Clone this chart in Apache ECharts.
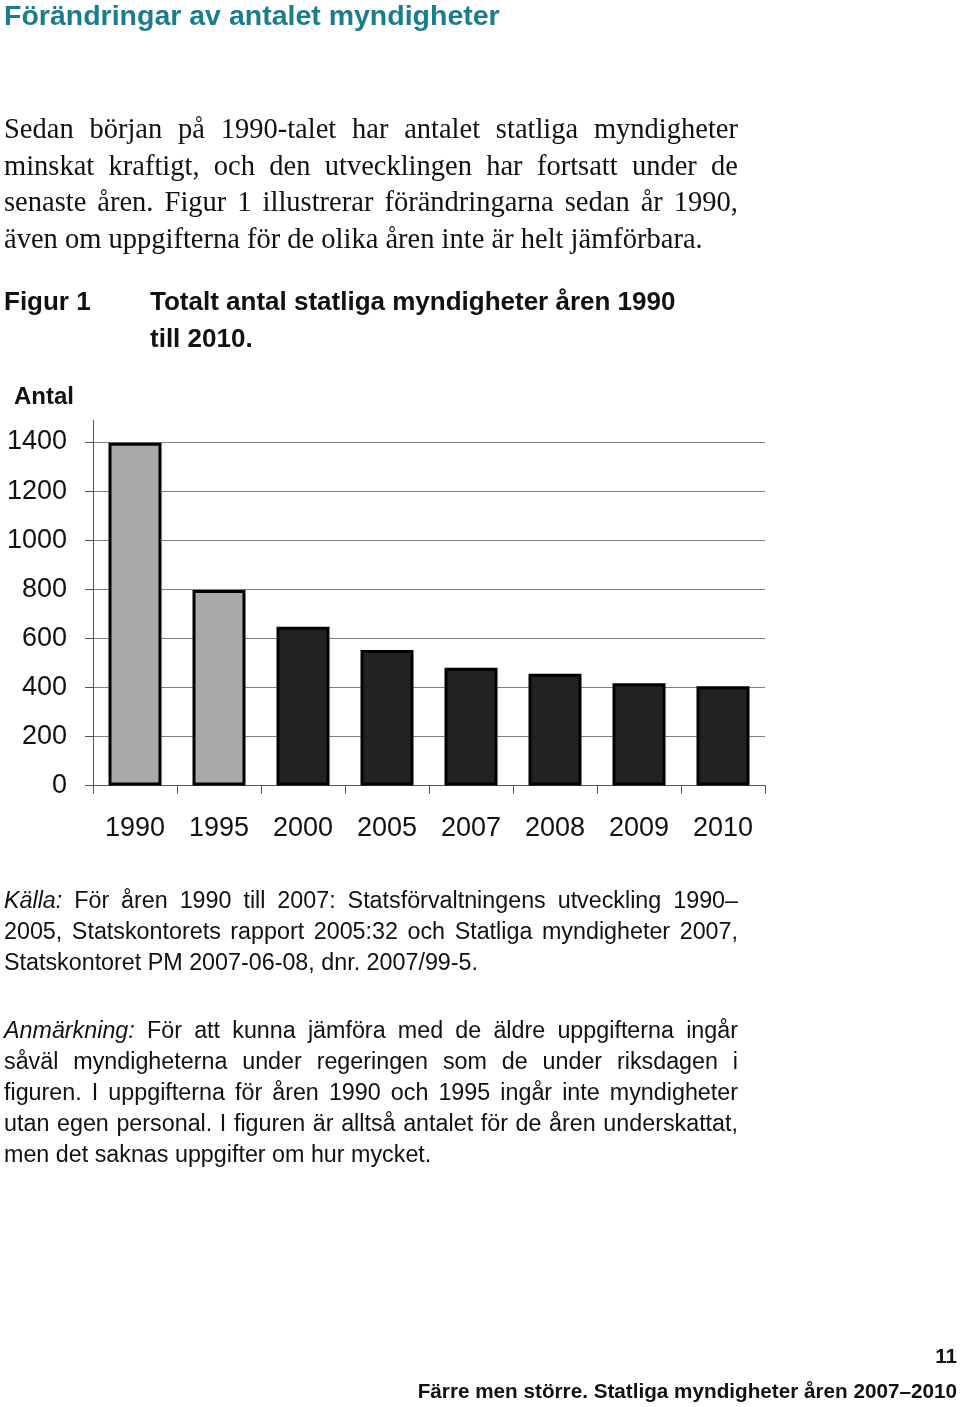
<!DOCTYPE html>
<html lang="sv">
<head>
<meta charset="utf-8">
<script src="https://cdn.jsdelivr.net/npm/echarts@6/dist/echarts.min.js"></script>
<style>
  html, body { margin: 0; padding: 0; background: #fff; }
  #page { position: relative; width: 960px; height: 1407px; overflow: hidden; }
  #chart { position: absolute; left: 0; top: 0; width: 960px; height: 1407px; z-index: 0; }
  .t { position: absolute; z-index: 1; color: #111; white-space: nowrap; }
  .sans { font-family: "Liberation Sans", Arial, Helvetica, sans-serif; }
  .serif { font-family: "Liberation Serif", "Times New Roman", serif; }
  .j { display: block; text-align: justify; text-align-last: justify; white-space: normal; }
  .nl { display: block; text-align: left; }
</style>
</head>
<body>
<div id="page">
  <div id="chart"></div>

  <div class="t sans" style="left:4px; top:-2px; font-size:28.5px; line-height:34px; font-weight:bold; color:#1b7c8c;">Förändringar av antalet myndigheter</div>

  <div class="t serif" style="left:4px; top:111px; width:734px; font-size:28.5px; line-height:36.5px;">
    <span class="j">Sedan början på 1990-talet har antalet statliga myndigheter</span>
    <span class="j">minskat kraftigt, och den utvecklingen har fortsatt under de</span>
    <span class="j">senaste åren. Figur 1 illustrerar förändringarna sedan år 1990,</span>
    <span class="nl">även om uppgifterna för de olika åren inte är helt jämförbara.</span>
  </div>

  <div class="t sans" style="left:4px; top:282.5px; font-size:26px; line-height:37px; font-weight:bold;">Figur 1</div>
  <div class="t sans" style="left:150px; top:282.5px; font-size:26px; line-height:37px; font-weight:bold;">Totalt antal statliga myndigheter åren 1990<br>till 2010.</div>

  <div class="t sans" style="left:4px; top:884.5px; width:734px; font-size:23.3px; line-height:31px;">
    <span class="j"><i>Källa:</i> För åren 1990 till 2007: Statsförvaltningens utveckling 1990–</span>
    <span class="j">2005, Statskontorets rapport 2005:32 och Statliga myndigheter 2007,</span>
    <span class="nl">Statskontoret PM 2007-06-08, dnr. 2007/99-5.</span>
  </div>

  <div class="t sans" style="left:4px; top:1014.5px; width:734px; font-size:23.3px; line-height:31px;">
    <span class="j"><i>Anmärkning:</i> För att kunna jämföra med de äldre uppgifterna ingår</span>
    <span class="j">såväl myndigheterna under regeringen som de under riksdagen i</span>
    <span class="j">figuren. I uppgifterna för åren 1990 och 1995 ingår inte myndigheter</span>
    <span class="j">utan egen personal. I figuren är alltså antalet för de åren underskattat,</span>
    <span class="nl">men det saknas uppgifter om hur mycket.</span>
  </div>

  <div class="t sans" style="right:3px; top:1341px; font-size:20.7px; line-height:30px; font-weight:bold;">11</div>
  <div class="t sans" style="right:3px; top:1376px; font-size:20.7px; line-height:30px; font-weight:bold;">Färre men större. Statliga myndigheter åren 2007–2010</div>
</div>

<script>
// ---- data ----
const years = ['1990', '1995', '2000', '2005', '2007', '2008', '2009', '2010'];
const agencyCounts = [1397, 797, 647, 552, 480, 455, 417, 405];
// 1990 and 1995 exclude agencies without own staff (underestimated)
const underestimated = [true, true, false, false, false, false, false, false];
const yTicks = { min: 0, max: 1400, interval: 200 };
const yAxisTitle = 'Antal';

const FONT = '"Liberation Sans", Arial, Helvetica, sans-serif';
const chart = echarts.init(document.getElementById('chart'), null, { renderer: 'canvas' });

chart.setOption({
  animation: false,
  backgroundColor: 'transparent',
  grid: { left: 93, top: 442, width: 672, height: 343.5, containLabel: false },
  graphic: [
    { type: 'text', left: 14, top: 385, style: { text: yAxisTitle, font: 'bold 24px ' + FONT, fill: '#111' } },
    { type: 'line', shape: { x1: 93.5, y1: 420, x2: 93.5, y2: 442 }, style: { stroke: '#555', lineWidth: 1 } }
  ],
  xAxis: {
    type: 'category',
    data: years,
    boundaryGap: true,
    axisLine: { show: true, lineStyle: { color: '#555', width: 1 } },
    axisTick: { show: true, length: 8, alignWithLabel: false, interval: 0, lineStyle: { color: '#555', width: 1 } },
    axisLabel: { fontSize: 27, fontFamily: FONT, color: '#111', margin: 30, interval: 0 },
    splitLine: { show: false }
  },
  yAxis: {
    type: 'value',
    min: yTicks.min,
    max: yTicks.max,
    interval: yTicks.interval,
    axisLine: { show: true, lineStyle: { color: '#555', width: 1 } },
    axisTick: { show: true, length: 8, lineStyle: { color: '#555', width: 1 } },
    axisLabel: { fontSize: 27, fontFamily: FONT, color: '#111', margin: 26, formatter: (v) => String(v) },
    splitLine: { show: true, lineStyle: { color: '#808080', width: 1 } }
  },
  series: [{
    type: 'bar',
    data: agencyCounts,
    barWidth: 53,
    itemStyle: {
      color: (p) => underestimated[p.dataIndex] ? '#a8a8a8' : '#222222',
      borderColor: '#000',
      borderWidth: 3
    },
    emphasis: { disabled: true }
  }]
});
</script>
</body>
</html>
